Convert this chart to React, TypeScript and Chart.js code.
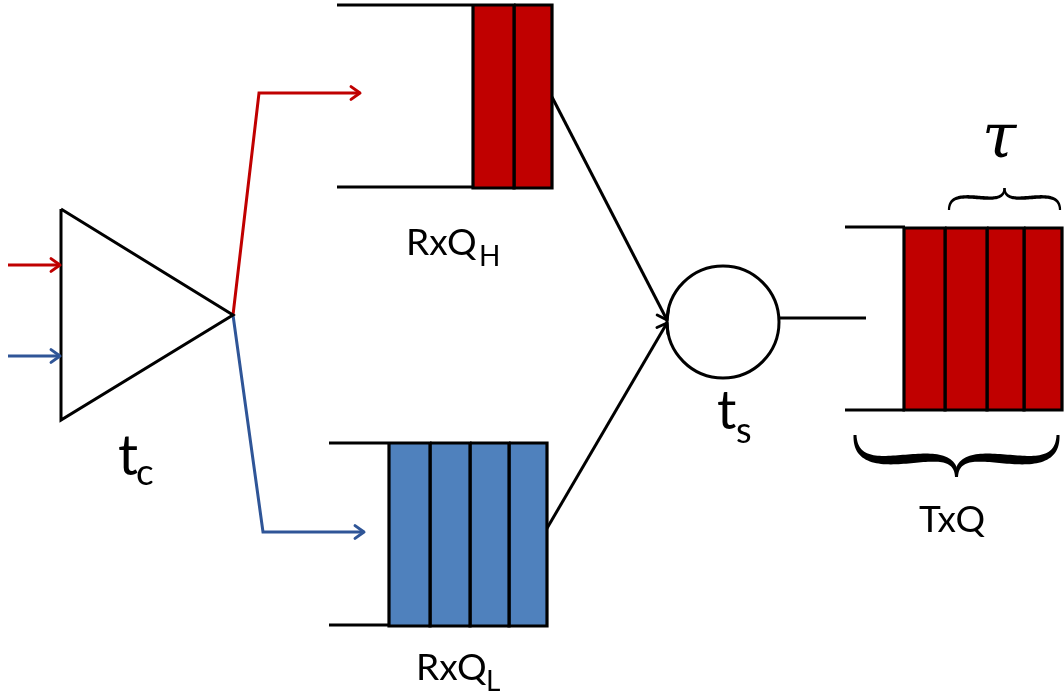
import { useEffect, useRef } from "react";
import { Chart, registerables } from "chart.js";

Chart.register(...registerables);

type P = { x: number; y: number };

// ---- diagram data (coordinates in diagram units) ----
const triangle: P[] = [
  { x: 61, y: 209 }, { x: 61, y: 420 }, { x: 233, y: 315 }, { x: 61, y: 209 },
];
const redInput: P[] = [{ x: 8, y: 265 }, { x: 60, y: 265 }];
const blueInput: P[] = [{ x: 8, y: 356 }, { x: 60, y: 356 }];
const redBranch: P[] = [{ x: 233, y: 315 }, { x: 259, y: 93 }, { x: 360, y: 93 }];
const blueBranch: P[] = [{ x: 233, y: 315 }, { x: 263, y: 532 }, { x: 364, y: 532 }];

const rxqHRailX = [337, 473];
const rxqHRailY = [5, 187];
const rxqLRailX = [329, 389];
const rxqLRailY = [443, 625];
const txqRailX = [845, 905];
const txqRailY = [227, 410];

const rxqHSlotX = [473, 514, 552];
const rxqHSlotY = [5, 188];
const rxqLSlotX = [389, 430, 470, 509, 547];
const rxqLSlotY = [443, 626];
const txqSlotX = [904, 945, 987, 1024, 1062];
const txqSlotY = [228, 410];

const highToServer: P[] = [{ x: 552, y: 97 }, { x: 667, y: 320 }];
const lowToServer: P[] = [{ x: 546, y: 530 }, { x: 667, y: 323 }];
const serverToTx: P[] = [{ x: 779, y: 318 }, { x: 866, y: 318 }];
const server: P[] = [{ x: 723, y: 322 }];

// braces: [x1, x2, endY, tipY]
const tauBrace = [949, 1060, 210, 188];
const txqBrace = [855, 1058, 435, 477];

const labelTexts = ["RxQ", "H", "RxQ", "L", "TxQ", "t", "c", "t", "s", "τ"];
const labelAnchors: P[] = [
  { x: 406, y: 255 }, { x: 479, y: 266 },
  { x: 416, y: 680 }, { x: 486, y: 691 },
  { x: 919, y: 532 },
  { x: 118, y: 475 }, { x: 136, y: 485 },
  { x: 717, y: 429 }, { x: 736, y: 443 },
  { x: 982, y: 157 },
];
const labelFonts = [
  "37px Lato", "28px Lato", "37px Lato", "28px Lato", "37px Lato",
  "56px Lato", "37px Lato", "54px Lato", "36px Lato",
  "italic 62px 'DejaVu Serif'",
];

const RED = "#C00000";
const BLUE_LINE = "#2F5597";
const BLUE_FILL = "#4F81BD";

function rect(x0: number, x1: number, y0: number, y1: number): P[] {
  return [
    { x: x0, y: y0 }, { x: x1, y: y0 }, { x: x1, y: y1 }, { x: x0, y: y1 }, { x: x0, y: y0 },
  ];
}

function slots(xs: number[], ys: number[], fill: string) {
  const out: any[] = [];
  for (let i = 0; i < xs.length - 1; i++) {
    out.push({
      data: rect(xs[i], xs[i + 1], ys[0], ys[1]),
      borderColor: "#000",
      borderWidth: 3.2,
      borderJoinStyle: "miter",
      backgroundColor: fill,
      fill: "shape",
      pointRadius: 0,
      order: 1,
    });
  }
  return out;
}

function wire(data: P[], color: string, width: number, arrow = false) {
  return {
    data,
    borderColor: color,
    borderWidth: width,
    pointRadius: 0,
    fill: false,
    arrow,
    order: 2,
  };
}

const arrowPlugin = {
  id: "arrowheads",
  afterDatasetsDraw(chart: any) {
    const ctx = chart.ctx;
    chart.data.datasets.forEach((ds: any, i: number) => {
      if (!ds.arrow) return;
      const pts = chart.getDatasetMeta(i).data;
      const a = pts[pts.length - 2];
      const b = pts[pts.length - 1];
      const ang = Math.atan2(b.y - a.y, b.x - a.x);
      const len = 11;
      const spread = 0.62;
      ctx.save();
      ctx.strokeStyle = ds.borderColor;
      ctx.lineWidth = ds.borderWidth;
      ctx.lineCap = "round";
      ctx.lineJoin = "round";
      ctx.beginPath();
      ctx.moveTo(b.x - len * Math.cos(ang - spread), b.y - len * Math.sin(ang - spread));
      ctx.lineTo(b.x, b.y);
      ctx.lineTo(b.x - len * Math.cos(ang + spread), b.y - len * Math.sin(ang + spread));
      ctx.stroke();
      ctx.restore();
    });
  },
};

// Filled brace with tapered thickness
function braceHalf(xe: number, mid: number, y0: number, yt: number, wEnd: number, wMax: number) {
  const h = yt - y0;
  const p0 = { x: xe, y: y0 };
  const p1 = { x: xe, y: y0 + 1.3 * h };
  const p2 = { x: mid, y: y0 - 0.1 * h };
  const p3 = { x: mid, y: yt };
  const left: P[] = [];
  const right: P[] = [];
  const N = 60;
  for (let i = 0; i <= N; i++) {
    const t = i / N;
    const u = 1 - t;
    const x = u * u * u * p0.x + 3 * u * u * t * p1.x + 3 * u * t * t * p2.x + t * t * t * p3.x;
    const y = u * u * u * p0.y + 3 * u * u * t * p1.y + 3 * u * t * t * p2.y + t * t * t * p3.y;
    let dx = 3 * u * u * (p1.x - p0.x) + 6 * u * t * (p2.x - p1.x) + 3 * t * t * (p3.x - p2.x);
    let dy = 3 * u * u * (p1.y - p0.y) + 6 * u * t * (p2.y - p1.y) + 3 * t * t * (p3.y - p2.y);
    const l = Math.hypot(dx, dy) || 1;
    dx /= l; dy /= l;
    const w = (wEnd + (wMax - wEnd) * Math.pow(Math.sin(Math.PI * t), 1.2)) / 2;
    left.push({ x: x - dy * w, y: y + dx * w });
    right.push({ x: x + dy * w, y: y - dx * w });
  }
  return left.concat(right.reverse());
}

function drawBrace(chart: any, spec: number[], wEnd: number, wMax: number) {
  const sx = chart.scales.x;
  const sy = chart.scales.y;
  const x1 = sx.getPixelForValue(spec[0]);
  const x2 = sx.getPixelForValue(spec[1]);
  const y0 = sy.getPixelForValue(spec[2]);
  const yt = sy.getPixelForValue(spec[3]);
  const mid = (x1 + x2) / 2;
  const ctx = chart.ctx;
  ctx.save();
  ctx.fillStyle = "#000";
  [x1, x2].forEach((xe) => {
    const poly = braceHalf(xe, mid, y0, yt, wEnd, wMax);
    ctx.beginPath();
    poly.forEach((p, i) => (i ? ctx.lineTo(p.x, p.y) : ctx.moveTo(p.x, p.y)));
    ctx.closePath();
    ctx.fill();
  });
  ctx.restore();
}

const annotationPlugin = {
  id: "annotations",
  afterDraw(chart: any) {
    drawBrace(chart, tauBrace, 2.2, 3.6);
    drawBrace(chart, txqBrace, 3, 9);
    const ctx = chart.ctx;
    const sx = chart.scales.x;
    const sy = chart.scales.y;
    ctx.save();
    ctx.fillStyle = "#000";
    ctx.textAlign = "left";
    ctx.textBaseline = "alphabetic";
    labelTexts.forEach((t, i) => {
      ctx.font = labelFonts[i];
      ctx.fillText(t, sx.getPixelForValue(labelAnchors[i].x), sy.getPixelForValue(labelAnchors[i].y));
    });
    ctx.restore();
  },
};

export default function App() {
  const ref = useRef<HTMLCanvasElement>(null);
  useEffect(() => {
    document.body.style.margin = "0";
    document.body.style.background = "#fff";
    const W = 3;
    const datasets: any[] = [
      wire(triangle, "#000", W),
      wire(redInput, RED, W, true),
      wire(blueInput, BLUE_LINE, W, true),
      wire(redBranch, RED, W, true),
      wire(blueBranch, BLUE_LINE, W, true),
      wire([{ x: rxqHRailX[0], y: rxqHRailY[0] }, { x: rxqHRailX[1], y: rxqHRailY[0] }], "#000", W),
      wire([{ x: rxqHRailX[0], y: rxqHRailY[1] }, { x: rxqHRailX[1], y: rxqHRailY[1] }], "#000", W),
      wire([{ x: rxqLRailX[0], y: rxqLRailY[0] }, { x: rxqLRailX[1], y: rxqLRailY[0] }], "#000", W),
      wire([{ x: rxqLRailX[0], y: rxqLRailY[1] }, { x: rxqLRailX[1], y: rxqLRailY[1] }], "#000", W),
      wire([{ x: txqRailX[0], y: txqRailY[0] }, { x: txqRailX[1], y: txqRailY[0] }], "#000", W),
      wire([{ x: txqRailX[0], y: txqRailY[1] }, { x: txqRailX[1], y: txqRailY[1] }], "#000", W),
      wire(highToServer, "#000", W, true),
      wire(lowToServer, "#000", W, true),
      wire(serverToTx, "#000", W),
      ...slots(rxqHSlotX, rxqHSlotY, RED),
      ...slots(rxqLSlotX, rxqLSlotY, BLUE_FILL),
      ...slots(txqSlotX, txqSlotY, RED),
      {
        data: server,
        showLine: false,
        pointRadius: 56,
        pointHoverRadius: 56,
        pointBackgroundColor: "#fff",
        pointBorderColor: "#000",
        pointBorderWidth: 3,
        order: 0,
      },
    ];
    const chart = new Chart(ref.current!, {
      type: "line",
      data: { datasets },
      options: {
        animation: false,
        responsive: true,
        maintainAspectRatio: false,
        layout: { padding: 0, autoPadding: false } as any,
        events: [],
        elements: { line: { tension: 0 } },
        datasets: { line: { clip: false } as any },
        plugins: { legend: { display: false }, tooltip: { enabled: false } },
        scales: {
          x: { type: "linear", min: 0, max: 1064, display: false },
          y: { type: "linear", min: 0, max: 697, reverse: true, display: false },
        },
      },
      plugins: [arrowPlugin, annotationPlugin],
    });
    return () => chart.destroy();
  }, []);
  return (
    <div style={{ width: 1064, height: 697, position: "relative" }}>
      <canvas ref={ref} />
    </div>
  );
}
